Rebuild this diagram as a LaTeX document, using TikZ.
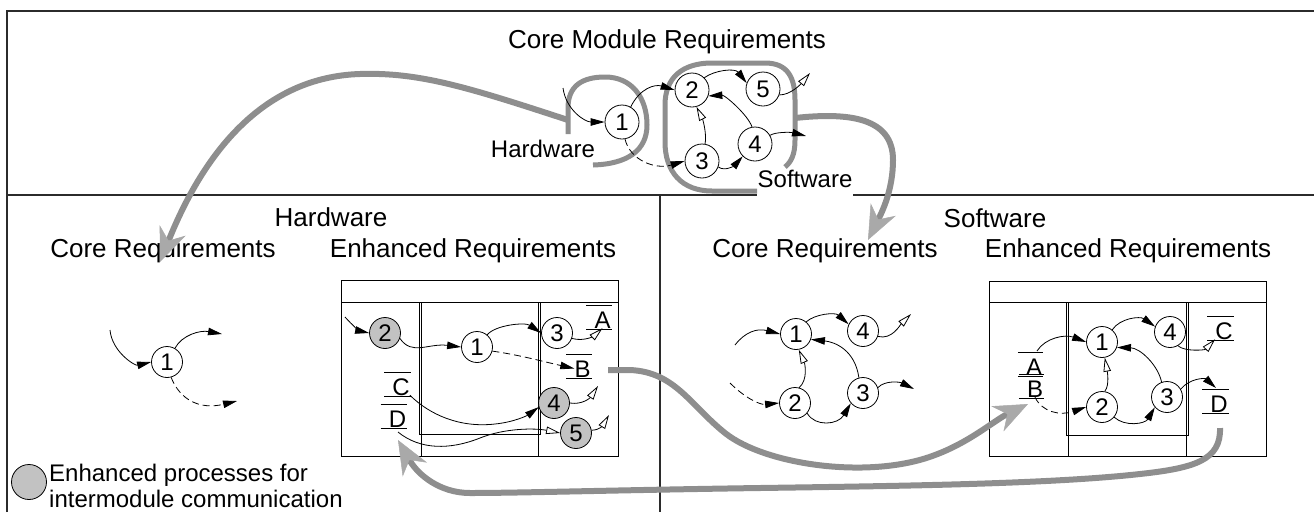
\documentclass[tikz,border=0pt]{standalone}
\usepackage{fontspec}
\setmainfont{Liberation Sans}
\usetikzlibrary{arrows.meta,calc}
\definecolor{framec}{HTML}{2B2B2B}
\definecolor{bandgray}{HTML}{8E8E8E}
\definecolor{headgray}{HTML}{A9A9A9}
\definecolor{procgray}{HTML}{C2C2C2}
% two bars of a data store, above and below its letter
\newcommand\storebars[1]{%
  \draw[line width=0.9pt] ($(#1.north west)+(-8,-5)$) -- ($(#1.north east)+(1,-5)$)
                          ($(#1.south west)+(-8,1)$) -- ($(#1.south east)+(1,1)$);}
\begin{document}
\begin{tikzpicture}[x=1pt,y=-1pt,
  font=\fontsize{24}{28}\selectfont,
  frame/.style={draw=framec,line width=1.2pt},
  boxline/.style={draw=black,line width=0.9pt},
  lbl/.style={inner sep=0pt},
  head/.style={inner sep=0pt,anchor=base,font=\fontsize{26}{30}\selectfont},
  proc/.style={circle,draw=black,line width=0.8pt,fill=white,minimum size=31pt,inner sep=0pt},
  bigproc/.style={proc,minimum size=34pt},
  eproc/.style={proc,fill=procgray},
  flow/.style={draw=black,line width=0.8pt,-{Triangle[length=14pt,width=7.5pt]}},
  oflow/.style={draw=black,line width=0.8pt,-{Triangle[open,length=14pt,width=7.5pt,fill=white]}},
  dflow/.style={flow,dash pattern=on 7pt off 4pt},
  store/.style={inner sep=0pt,text height=17pt,text depth=0pt,anchor=base},
  band/.style={draw=bandgray,line width=5pt},
  bigarrow/.style={draw=bandgray,line width=6pt,
    -{Stealth[length=34pt,width=28pt,inset=11pt,color=headgray,line width=0.5pt]}},
]
\useasboundingbox (0,0) rectangle (1314,512);

% ---------- frame ----------
\draw[frame] (7,512) -- (7,11) -- (1314,11);
\draw[frame] (7,195) -- (757,195);
\draw[frame] (853,195) -- (1314,195);
\draw[frame] (660,195) -- (660,512);

% ---------- core module: partition loops ----------
\draw[band] (568,134) -- (568,108) .. controls (568,86) and (582,77) .. (605,77)
  .. controls (632,77) and (647,98) .. (647,125) .. controls (647,150) and (628,164) .. (593,165);
\draw[band] (757,191) -- (712,191) .. controls (682,191) and (665,172) .. (665,142) -- (665,105)
  .. controls (665,78) and (682,63) .. (712,63) -- (765,63) .. controls (788,63) and (795,78) .. (795,100)
  -- (795,140) .. controls (795,155) and (791,162) .. (785,167);

\node[head] (title) at (667,48) {Core Module Requirements};
\node[lbl,anchor=base] (hwlbl) at (543,157) {Hardware};
\node[lbl,anchor=base] (swlbl) at (805,187) {Software};

\node[bigproc] (t1) at (622,122) {1};
\node[bigproc] (t2) at (692,90) {2};
\node[bigproc] (t5) at (763,89) {5};
\node[bigproc] (t3) at (702,161) {3};
\node[bigproc] (t4) at (755,144) {4};
\coordinate (tin) at (563,88);
\coordinate (tout5) at (810,73);
\coordinate (tout4) at (806,136);

\draw[flow] (tin) .. controls (566,110) and (585,122) .. (t1.west);
\draw[flow] (t1.60) .. controls (640,88) and (655,84) .. (t2.west);
\draw[dflow] (t1.-80) .. controls (630,160) and (655,170) .. (t3.west);
\draw[flow] (t2.45) .. controls (715,70) and (735,68) .. (t5.160);
\draw[oflow] (t5.-20) .. controls (790,95) and (800,85) .. (tout5);
\draw[oflow] (t3.80) .. controls (707,135) and (703,120) .. (t2.-75);
\draw[flow] (t3.-20) .. controls (725,172) and (735,165) .. (t4.-135);
\draw[flow] (t4.100) .. controls (748,115) and (725,95) .. (t2.-20);
\draw[flow] (t4.30) .. controls (775,132) and (790,132) .. (tout4);

% ---------- headings ----------
\node[head] (hwhead) at (331,226) {Hardware};
\node[head] (swhead) at (995,227) {Software};
\node[head] (hwcore) at (163,257) {Core Requirements};
\node[head] (hwenh) at (473,257) {Enhanced Requirements};
\node[head] (swcore) at (825,257) {Core Requirements};
\node[head] (swenh) at (1128,257) {Enhanced Requirements};

% ---------- hardware core ----------
\node[proc] (l1) at (167,362) {1};
\coordinate (lin) at (110,330);
\coordinate (lout1) at (222,334);
\coordinate (lout2) at (237,401);
\draw[flow] (lin) .. controls (112,352) and (135,366) .. (l1.west);
\draw[flow] (l1.60) .. controls (182,335) and (200,330) .. (lout1);
\draw[dflow] (l1.-75) .. controls (180,400) and (200,410) .. (lout2);

% ---------- hardware enhanced ----------
\draw[boxline] (341,280) rectangle (618,456);
\draw[boxline] (341,302) -- (618,302);
\draw[boxline] (421.5,302) -- (421.5,456) (538,302) -- (538,456);
\draw[boxline] (419,302) rectangle (540.5,434);

\node[eproc] (h2) at (385,333) {2};
\node[proc] (h1) at (477,347) {1};
\node[proc] (h3) at (557,333) {3};
\node[eproc] (h4) at (554,403) {4};
\node[eproc] (h5) at (576,433) {5};
\node[store] (hA) at (602.5,328) {A};
\node[store] (hB) at (582.5,377) {B};
\node[store] (hC) at (401,395) {C};
\node[store] (hD) at (397.5,427) {D};
\storebars{hA}\storebars{hB}\storebars{hC}\storebars{hD}
\coordinate (hin) at (345,317);
\coordinate (hDout) at (398,432);
\coordinate (hout4) at (598,386);
\coordinate (hout5) at (609,415);

\draw[flow] (hin) .. controls (352,325) and (360,331) .. (h2.west);
\draw[flow] (h2.-20) .. controls (412,356) and (428,343) .. (h1.west);
\draw[flow] (h1.50) .. controls (495,325) and (525,322) .. (h3.west);
\draw[dflow] (h1.-15) .. controls (520,355) and (545,362) .. (hB.west);
\draw[oflow] (h3.-20) .. controls (585,342) and (595,335) .. (hA.south);
\draw[flow] (hC.south east) .. controls (430,415) and (460,428) .. (495,424)
  .. controls (515,422) and (528,415) .. (h4.-165);
\draw[oflow] (hDout) .. controls (420,450) and (450,450) .. (480,438)
  .. controls (505,428) and (535,428) .. (h5.west);
\draw[oflow] (h4.0) .. controls (582,405) and (590,398) .. (hout4);
\draw[oflow] (h5.10) .. controls (600,430) and (603,425) .. (hout5);

% ---------- software core ----------
\node[proc] (r1) at (796,334) {1};
\node[proc] (r4) at (863,331) {4};
\node[proc] (r2) at (795,403) {2};
\node[proc] (r3) at (863,393) {3};
\coordinate (rin1) at (735,345);
\coordinate (rin2) at (730,383);
\coordinate (rout4) at (911,314);
\coordinate (rout3) at (914,389);
\draw[flow] (rin1) .. controls (745,332) and (757,328) .. (r1.west);
\draw[dflow] (rin2) .. controls (745,398) and (760,405) .. (r2.west);
\draw[flow] (r1.50) .. controls (815,314) and (835,312) .. (r4.155);
\draw[oflow] (r4.-20) .. controls (892,340) and (900,325) .. (rout4);
\draw[oflow] (r2.75) .. controls (808,380) and (805,364) .. (r1.-80);
\draw[flow] (r3.105) .. controls (855,350) and (835,342) .. (r1.-20);
\draw[flow] (r2.-40) .. controls (815,427) and (838,425) .. (r3.-140);
\draw[flow] (r3.20) .. controls (885,380) and (900,382) .. (rout3);

% ---------- software enhanced ----------
\draw[boxline] (989,281) rectangle (1266,456);
\draw[boxline] (989,302) -- (1266,302);
\draw[boxline] (1068.5,302) -- (1068.5,456) (1186.5,302) -- (1186.5,456);
\draw[boxline] (1066.5,302) rectangle (1188.5,435);

\node[proc] (s1) at (1102,342) {1};
\node[proc] (s4) at (1170,332) {4};
\node[proc] (s2) at (1102,407) {2};
\node[proc] (s3) at (1167,397) {3};
\node[store] (sA) at (1034,375) {A};
\node[store] (sB) at (1035,397) {B};
\node[store] (sC) at (1224,339) {C};
\node[store] (sD) at (1219,412) {D};
\storebars{sA}\storebars{sB}\storebars{sC}\storebars{sD}
\coordinate (sAout) at (1037,351);
\coordinate (sDin) at (1216,388);
\draw[flow] (sAout) .. controls (1045,338) and (1065,334) .. (s1.west);
\draw[dflow] (sB.south) .. controls (1042,412) and (1060,416) .. (s2.west);
\draw[flow] (s1.50) .. controls (1120,318) and (1140,316) .. (s4.160);
\draw[oflow] (s4.-60) .. controls (1185,352) and (1205,350) .. (sC.south west);
\draw[oflow] (s2.80) .. controls (1110,385) and (1107,370) .. (s1.-80);
\draw[flow] (s3.110) .. controls (1158,365) and (1140,348) .. (s1.-20);
\draw[flow] (s2.-40) .. controls (1125,427) and (1145,424) .. (s3.-140);
\draw[flow] (s3.30) .. controls (1190,378) and (1205,378) .. (sDin);

% ---------- big transfer arrows ----------
\coordinate (hwport) at (568,120);
\coordinate (hwtip) at (160,262);
\coordinate (swport) at (795,118);
\coordinate (swtip) at (868,240);
\coordinate (hwout) at (608,370);
\coordinate (swin) at (1028,404);
\coordinate (swout) at (1220,428);
\coordinate (hwin) at (398,440);
\draw[bigarrow] (hwport) .. controls (470,88) and (420,72) .. (360,74)
  .. controls (265,77) and (205,150) .. (hwtip);
\draw[bigarrow] (swport) .. controls (850,112) and (893,118) .. (893,160)
  .. controls (893,190) and (882,212) .. (swtip);
\draw[bigarrow] (hwout) -- (630,370) .. controls (675,372) and (690,405) .. (725,433)
  .. controls (765,465) and (870,480) .. (935,455) .. controls (970,442) and (995,420) .. (swin);
\draw[bigarrow] (swout) .. controls (1221,460) and (1195,468) .. (1140,474)
  .. controls (1050,484) and (900,486) .. (760,488) .. controls (620,490) and (520,493) .. (470,493)
  .. controls (440,493) and (418,475) .. (hwin);

% ---------- legend ----------
\node[eproc,minimum size=35pt] (legend) at (29,482) {};
\node[lbl,anchor=base west] (legtxt1) at (49,481) {Enhanced processes for};
\node[lbl,anchor=base west] (legtxt2) at (49,507) {intermodule communication};
\end{tikzpicture}
\end{document}
